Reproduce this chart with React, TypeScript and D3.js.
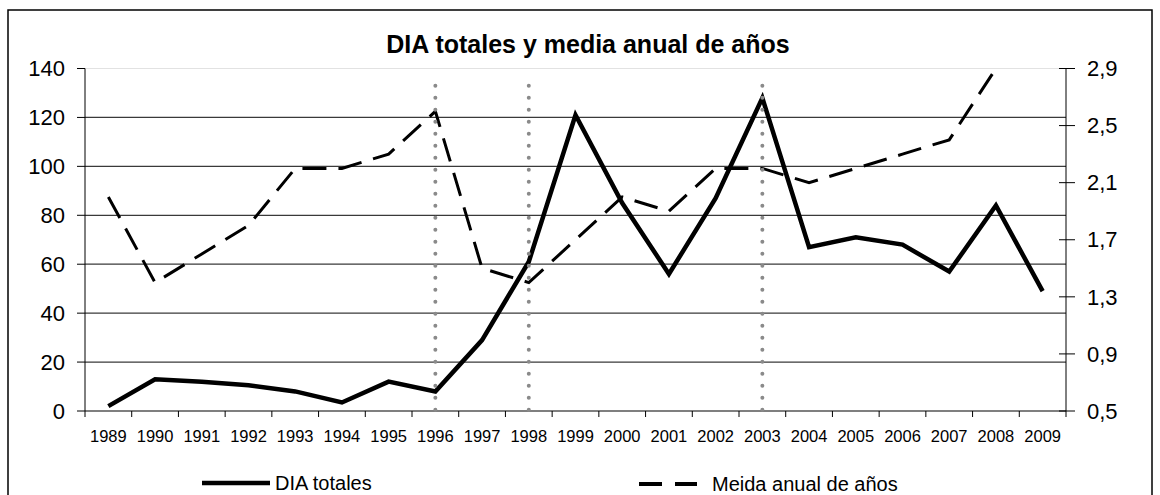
import * as d3 from 'd3';

const W = 1160;
const H = 495;
const PLOT = { left: 85, right: 1066, top: 68.5, bottom: 411 };
const FONT = '"Liberation Sans", Arial, sans-serif';

const years = [
    '1989', '1990', '1991', '1992', '1993', '1994', '1995', '1996', '1997', '1998', '1999',
    '2000', '2001', '2002', '2003', '2004', '2005', '2006', '2007', '2008', '2009',
];
// DIA totales (eje izquierdo)
const diaTotales = [2, 13, 12, 10.5, 8, 3.5, 12, 8, 29, 61, 121, 85, 56, 87, 128, 67, 71, 68, 57, 84, 49];
// media anual de años (eje derecho)
const mediaAnual = [2.0, 1.4, 1.6, 1.8, 2.2, 2.2, 2.3, 2.6, 1.5, 1.4, 1.7, 2.0, 1.9, 2.2, 2.2, 2.1, 2.2, 2.3, 2.4, 2.9, 3.3];
const markerYears = ['1996', '1998', '2003'];
const markerTop = 133;

const leftTicks = [0, 20, 40, 60, 80, 100, 120, 140];
const rightTicks = [0.5, 0.9, 1.3, 1.7, 2.1, 2.5, 2.9];

export default function App() {
    const xScale = d3.scaleBand().domain(years).range([PLOT.left, PLOT.right]).padding(0);
    const cx = (y: string) => (xScale(y) ?? 0) + xScale.bandwidth() / 2;
    const yLeft = d3.scaleLinear().domain([0, 140]).range([PLOT.bottom, PLOT.top]);
    const yRight = d3.scaleLinear().domain([0.5, 2.9]).range([PLOT.bottom, PLOT.top]);

    const solidPath = d3.line<number>()
        .x((_, i) => cx(years[i]))
        .y((d) => yLeft(d))(diaTotales) ?? '';
    const dashPath = d3.line<number>()
        .x((_, i) => cx(years[i]))
        .y((d) => yRight(d))(mediaAnual) ?? '';

    const boundaries = years.map((y) => xScale(y) ?? 0).concat([PLOT.right]);

    return (
        <svg width={W} height={H} style={{ position: 'absolute', left: 0, top: 0, background: '#fff' }} fontFamily={FONT}>
            <defs>
                <clipPath id="plotClip">
                    <rect x={PLOT.left} y={PLOT.top} width={PLOT.right - PLOT.left} height={PLOT.bottom - PLOT.top} />
                </clipPath>
            </defs>
            <rect x={8} y={10} width={1144} height={500} fill="#fff" stroke="#000" strokeWidth={1.5} />

            <text x={588} y={53} textAnchor="middle" fontSize={25} fontWeight="bold">
                DIA totales y media anual de años
            </text>

            {/* gridlines */}
            {leftTicks.slice(1).map((t) => (
                <line
                    key={t}
                    x1={PLOT.left}
                    x2={PLOT.right}
                    y1={yLeft(t)}
                    y2={yLeft(t)}
                    stroke={t === 140 ? '#e2e2e2' : '#3a3a3a'}
                    strokeWidth={1.2}
                />
            ))}

            {/* axes */}
            <line x1={PLOT.left} x2={PLOT.left} y1={PLOT.top} y2={PLOT.bottom} stroke="#000" />
            <line x1={PLOT.right} x2={PLOT.right} y1={PLOT.top} y2={PLOT.bottom} stroke="#000" />
            <line x1={PLOT.left} x2={PLOT.right} y1={PLOT.bottom} y2={PLOT.bottom} stroke="#000" strokeWidth={1.2} />

            {leftTicks.map((t) => (
                <g key={t}>
                    <line x1={PLOT.left - 8} x2={PLOT.left} y1={yLeft(t)} y2={yLeft(t)} stroke="#000" />
                    <text x={65} y={yLeft(t)} dy="0.35em" textAnchor="end" fontSize={22}>
                        {t}
                    </text>
                </g>
            ))}
            {rightTicks.map((t) => (
                <g key={t}>
                    <line x1={PLOT.right - 7} x2={PLOT.right + 9} y1={yRight(t)} y2={yRight(t)} stroke="#000" />
                    <text x={1087} y={yRight(t)} dy="0.35em" textAnchor="start" fontSize={22}>
                        {String(t.toFixed(1)).replace('.', ',')}
                    </text>
                </g>
            ))}
            {boundaries.map((bx, i) => (
                <line key={i} x1={bx} x2={bx} y1={PLOT.bottom} y2={PLOT.bottom + 6} stroke="#000" />
            ))}
            {years.map((y) => (
                <text key={y} x={cx(y)} y={441.5} textAnchor="middle" fontSize={16.5}>
                    {y}
                </text>
            ))}

            {/* series */}
            <g clipPath="url(#plotClip)">
                <path d={dashPath} fill="none" stroke="#000" strokeWidth={3} strokeDasharray="24,12" />
                <path d={solidPath} fill="none" stroke="#000" strokeWidth={4.5} strokeLinejoin="miter" />
            </g>

            {/* dotted markers */}
            {markerYears.map((y) => (
                <line
                    key={y}
                    x1={cx(y)}
                    x2={cx(y)}
                    y1={yLeft(markerTop)}
                    y2={PLOT.bottom}
                    stroke="#8a8a8a"
                    strokeWidth={4}
                    strokeLinecap="round"
                    strokeDasharray="0,12"
                />
            ))}

            {/* legend */}
            <line x1={202} x2={270} y1={483} y2={483} stroke="#000" strokeWidth={4.5} />
            <text x={275} y={490} fontSize={20}>DIA totales</text>
            <line x1={639} x2={697} y1={484} y2={484} stroke="#000" strokeWidth={4} strokeDasharray="23,13" />
            <text x={712} y={491} fontSize={20}>Meida anual de años</text>
        </svg>
    );
}
